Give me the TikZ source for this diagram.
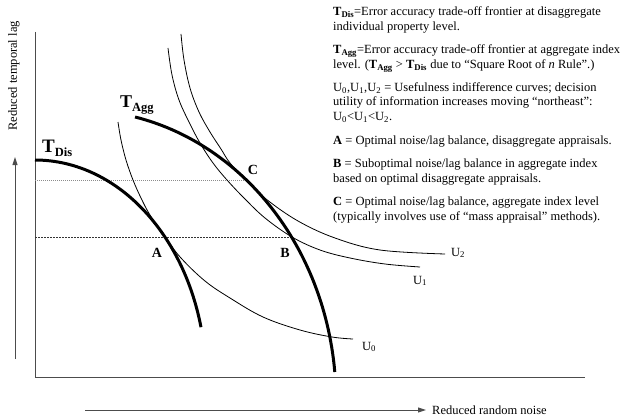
\documentclass[tikz,border=0pt]{standalone}
\usepackage{fontspec}
\setmainfont{Liberation Serif}
\usetikzlibrary{arrows.meta}
\begin{document}
\begin{tikzpicture}[x=1pt,y=-1pt,
  thickcurve/.style={line width=3pt},
  thincurve/.style={line width=0.8pt},
  axisline/.style={line width=1pt, draw=black!70},
  arrowline/.style={line width=1pt, draw=black!70, -{Triangle[length=8pt,width=5pt]}},
  guideA/.style={line width=0.8pt, draw=black!45, dash pattern=on 1pt off 1pt},
  guideB/.style={line width=0.7pt, draw=black!80, dash pattern=on 2pt off 1pt},
  txt/.style={anchor=base west, inner sep=0pt, font=\fontsize{12.5}{14.8}\selectfont},
  ptlab/.style={inner sep=0pt, font=\fontsize{14}{14}\selectfont\bfseries},
  ulab/.style={anchor=base west, inner sep=0pt, font=\fontsize{12.5}{12.5}\selectfont},
  tlab/.style={anchor=base west, inner sep=0pt, font=\bfseries},
]
\useasboundingbox (0,0) rectangle (623,417);

% axes
\coordinate (Ytop) at (35,32);
\coordinate (O) at (35,377);
\coordinate (Xend) at (585,377);
\draw[axisline] (Ytop) -- (O) -- (Xend);

% direction arrows
\coordinate (la0) at (15,359);
\coordinate (la1) at (15,157);
\draw[arrowline] (la0) -- (la1);
\coordinate (ba0) at (85,410);
\coordinate (ba1) at (426,410);
\draw[arrowline] (ba0) -- (ba1);
\node[txt] (xlab) at (432,414) {Reduced random noise};
\node[rotate=90, inner sep=0pt, font=\fontsize{12.5}{12.5}\selectfont] (ylab) at (14,76) {Reduced temporal lag};

% key points
\coordinate (A) at (165,237);
\coordinate (B) at (291.6,237);
\coordinate (C) at (246.3,180);
\coordinate (Cl) at (35,180);
\coordinate (Bl) at (35,237);
\draw[guideA] (Cl) -- (C);
\draw[guideB] (Bl) -- (B);

% indifference curves
\draw[thincurve] plot[smooth, tension=0.6] coordinates {(118,122) (121,140) (126,160) (133,180) (141,198) (150,215) (165,237) (181,258) (205,281) (230,298) (263,317) (300,330) (332,337) (353,339)};
\draw[thincurve] plot[smooth, tension=0.6] coordinates {(168,48) (172,75) (179,100) (189,122) (200,143) (213,163) (227,180) (244,198) (265,218) (292,237) (320,250) (350,258) (385,264) (420,267)};
\draw[thincurve] plot[smooth, tension=0.6] coordinates {(181,34) (184,60) (190,88) (199,112) (210,132) (221,149) (230,163) (246,180) (266,199) (298,221) (335,238) (380,250) (445,254)};

% trade-off frontiers
\draw[thickcurve] plot[domain=90:13.9, samples=60, variable=\t] ({35+171*cos(\t)},{380-220*sin(\t)});
\draw[thickcurve] plot[domain=77.4:5.54, samples=60, variable=\t] ({79+257*cos(\t)},{400-290*sin(\t)});

% curve labels
\node[tlab] (tdis) at (42,152) {\fontsize{19}{19}\selectfont T\raisebox{-4pt}{\fontsize{12.5}{12.5}\selectfont Dis}};
\node[tlab] (tagg) at (120,107) {\fontsize{18}{18}\selectfont T\raisebox{-4pt}{\fontsize{12.5}{12.5}\selectfont Agg}};
\node[ptlab] (Alab) at (157,253) {A};
\node[ptlab] (Blab) at (285,253) {B};
\node[ptlab] (Clab) at (253,170) {C};
\node[ulab] (u0) at (362,350) {U\textsubscript{0}};
\node[ulab] (u1) at (413,284) {U\textsubscript{1}};
\node[ulab] (u2) at (451,256) {U\textsubscript{2}};

% legend text
\node[txt] (t1) at (333,16) {\textbf{T\textsubscript{Dis}}=Error accuracy trade-off frontier at disaggregate};
\node[txt] (t2) at (333,31) {individual property level.};
\node[txt] (t3) at (333,54) {\textbf{T\textsubscript{Agg}}=Error accuracy trade-off frontier at aggregate index};
\node[txt] (t4) at (333,69) {level. (\textbf{T\textsubscript{Agg}} > \textbf{T\textsubscript{Dis}} due to “Square Root of \textit{n} Rule”.)};
\node[txt] (t5) at (333,92) {U\textsubscript{0},U\textsubscript{1},U\textsubscript{2} = Usefulness indifference curves; decision};
\node[txt] (t6) at (333,106) {utility of information increases moving “northeast”:};
\node[txt] (t7) at (333,121) {U\textsubscript{0}<U\textsubscript{1}<U\textsubscript{2}.};
\node[txt] (t8) at (333,144) {\textbf{A} = Optimal noise/lag balance, disaggregate appraisals.};
\node[txt] (t9) at (333,167) {\textbf{B} = Suboptimal noise/lag balance in aggregate index};
\node[txt] (t10) at (333,182) {based on optimal disaggregate appraisals.};
\node[txt] (t11) at (333,205) {\textbf{C} = Optimal noise/lag balance, aggregate index level};
\node[txt] (t12) at (333,220) {(typically involves use of “mass appraisal” methods).};
\end{tikzpicture}
\end{document}
